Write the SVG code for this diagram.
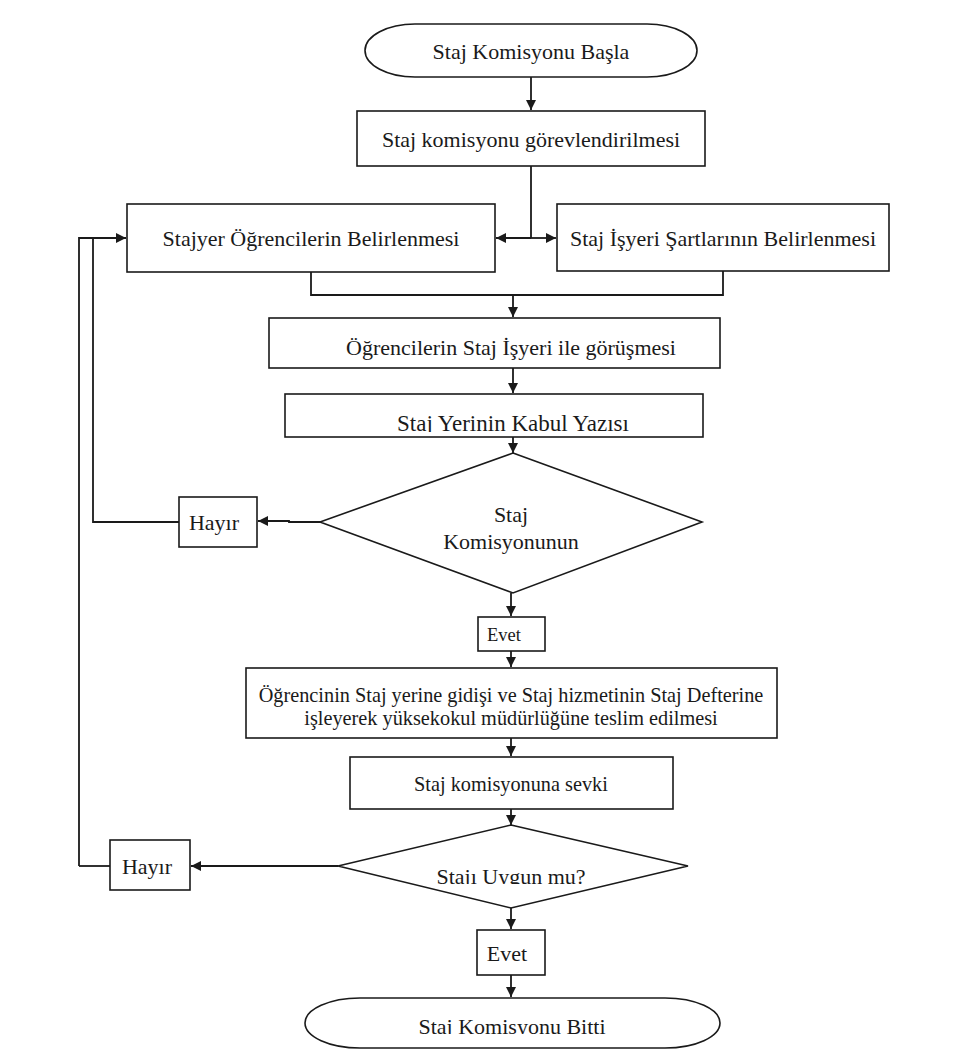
<svg xmlns="http://www.w3.org/2000/svg" width="960" height="1052" viewBox="0 0 960 1052">
<style>
.n{fill:#fff;stroke:#1a1a1a;stroke-width:1.6}
.t{font-family:"Liberation Serif","Times New Roman",serif;font-size:22px;fill:#1a1a1a;text-anchor:middle}
.m{font-size:20.3px}
.s{font-size:18.5px}
.c{fill:none;stroke:#1a1a1a;stroke-width:1.8}
</style>
<defs>
<marker id="a" viewBox="0 0 10 10" refX="10" refY="5" markerWidth="10" markerHeight="10" markerUnits="userSpaceOnUse" orient="auto">
<path d="M0,0 L10,5 L0,10 z" fill="#1a1a1a"/>
</marker>
<clipPath id="c1"><rect x="285" y="394" width="418" height="38"/></clipPath>
<clipPath id="c2"><rect x="400" y="850" width="230" height="34"/></clipPath>
<clipPath id="c3"><rect x="330" y="1000" width="370" height="34"/></clipPath>
</defs>
<rect width="960" height="1052" fill="#fff"/>
<g id="connectors">
<path class="c" d="M531,77 V110" marker-end="url(#a)"/>
<path class="c" d="M531,166 V238"/>
<path class="c" d="M531,238 H496" marker-end="url(#a)"/>
<path class="c" d="M531,238 H556" marker-end="url(#a)"/>
<path class="c" d="M311,272 V295 H723 V271"/>
<path class="c" d="M513,295 V317" marker-end="url(#a)"/>
<path class="c" d="M513,368 V393" marker-end="url(#a)"/>
<path class="c" d="M513,437 V453" marker-end="url(#a)"/>
<path class="c" d="M320,522 H289 V521 H258" marker-end="url(#a)"/>
<path class="c" d="M179,522 H93 V238"/>
<path class="c" d="M79,866 V238 H126" marker-end="url(#a)"/>
<path class="c" d="M110,866 H79"/>
<path class="c" d="M511,593 V616" marker-end="url(#a)"/>
<path class="c" d="M511,651 V667" marker-end="url(#a)"/>
<path class="c" d="M511,738 V756" marker-end="url(#a)"/>
<path class="c" d="M511,809 V825" marker-end="url(#a)"/>
<path class="c" d="M338,866 H191" marker-end="url(#a)"/>
<path class="c" d="M511,908 V929" marker-end="url(#a)"/>
<path class="c" d="M511,975 V997" marker-end="url(#a)"/>
</g>
<g id="start">
<rect class="n" x="365" y="24" width="332" height="53" rx="50" ry="26.5"/>
<text class="t" x="531" y="59">Staj Komisyonu Başla</text>
</g>
<g id="gorev">
<rect class="n" x="357" y="111" width="348" height="55"/>
<text class="t" x="531" y="147">Staj komisyonu görevlendirilmesi</text>
</g>
<g id="stajyer">
<rect class="n" x="127" y="204" width="368" height="68"/>
<text class="t" x="311" y="246">Stajyer Öğrencilerin Belirlenmesi</text>
</g>
<g id="sartlar">
<rect class="n" x="557" y="204" width="332" height="67"/>
<text class="t" x="723" y="246">Staj İşyeri Şartlarının Belirlenmesi</text>
</g>
<g id="gorusme">
<rect class="n" x="269" y="318" width="451" height="50"/>
<text class="t" x="511" y="355">Öğrencilerin Staj İşyeri ile görüşmesi</text>
</g>
<g id="kabul">
<rect class="n" x="285" y="394" width="418" height="43"/>
<text class="t" x="513" y="431" clip-path="url(#c1)" style="font-size:23px">Staj Yerinin Kabul Yazısı</text>
</g>
<g id="karar1">
<polygon class="n" points="513,453 702,522 513,593 320,522"/>
<text class="t" x="511" y="522">Staj</text>
<text class="t" x="511" y="549">Komisyonunun</text>
</g>
<g id="hayir1">
<rect class="n" x="179" y="497" width="78" height="50"/>
<text class="t" x="214" y="530">Hayır</text>
</g>
<g id="evet1">
<rect class="n" x="478" y="617" width="67" height="34"/>
<text class="t s" x="504" y="641">Evet</text>
</g>
<g id="gidis">
<rect class="n" x="246" y="668" width="531" height="70"/>
<text class="t m" x="511" y="702">Öğrencinin Staj yerine gidişi ve Staj hizmetinin Staj Defterine</text>
<text class="t m" x="511" y="725">işleyerek yüksekokul müdürlüğüne teslim edilmesi</text>
</g>
<g id="sevk">
<rect class="n" x="350" y="757" width="323" height="52"/>
<text class="t m" x="511" y="791">Staj komisyonuna sevki</text>
</g>
<g id="karar2">
<polygon class="n" points="511,825 688,866 511,908 338,866"/>
<text class="t" x="511" y="884" clip-path="url(#c2)">Stajı Uygun mu?</text>
</g>
<g id="hayir2">
<rect class="n" x="110" y="840" width="80" height="50"/>
<text class="t" x="147" y="874">Hayır</text>
</g>
<g id="evet2">
<rect class="n" x="477" y="930" width="68" height="45"/>
<text class="t" x="507" y="961">Evet</text>
</g>
<g id="end">
<rect class="n" x="305" y="998" width="415" height="50" rx="55" ry="25"/>
<text class="t" x="512" y="1034" clip-path="url(#c3)">Staj Komisyonu Bitti</text>
</g>
</svg>
